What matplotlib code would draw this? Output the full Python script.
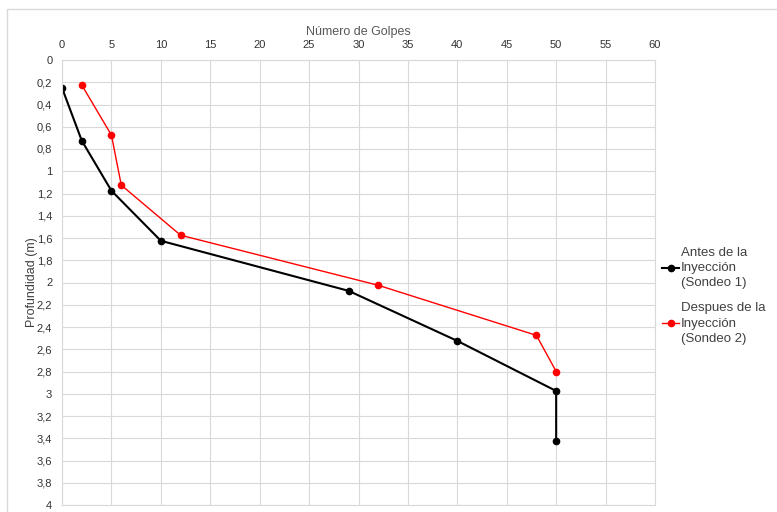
import matplotlib
matplotlib.use('Agg')
import matplotlib.pyplot as plt
from matplotlib.ticker import FuncFormatter
from matplotlib.patches import Rectangle

plt.rcParams['font.family'] = ['Liberation Sans', 'DejaVu Sans']

# Datos
golpes_antes = [0, 2, 5, 10, 29, 40, 50, 50]
prof_antes = [0.25, 0.725, 1.175, 1.625, 2.075, 2.525, 2.975, 3.425]

golpes_despues = [2, 5, 6, 12, 32, 48, 50]
prof_despues = [0.225, 0.675, 1.125, 1.575, 2.025, 2.475, 2.8]

etiqueta_antes = "Antes de la\nInyección\n(Sondeo 1)"
etiqueta_despues = "Despues de la\nInyección\n(Sondeo 2)"

GRIS = '#595959'
GRID = '#d9d9d9'

fig = plt.figure(figsize=(7.77, 5.12), dpi=100)
ax = fig.add_axes([62/777, 7/512, 593/777, 445/512])

# marco del área del gráfico
fig.patches.append(Rectangle((7/777, -0.1), 1.0, (512-9)/512 + 0.1,
                             transform=fig.transFigure, fill=False,
                             edgecolor=GRID, lw=1))

ax.plot(golpes_antes, prof_antes, color='black', lw=1.5, marker='o',
        ms=4.5, label=etiqueta_antes)
ax.plot(golpes_despues, prof_despues, color='#ff0000', lw=1.0, marker='o',
        ms=4.5, label=etiqueta_despues)

ax.set_xlim(0, 60)
ax.set_ylim(4, 0)
ax.set_xticks(range(0, 61, 5))
ax.set_yticks([i * 0.2 for i in range(21)])

def fmt(v, pos):
    s = f"{v:.1f}".rstrip('0').rstrip('.')
    return s.replace('.', ',')

ax.yaxis.set_major_formatter(FuncFormatter(fmt))
ax.xaxis.tick_top()
ax.xaxis.set_label_position('top')
ax.tick_params(length=0, labelsize=8, labelcolor='#333333', pad=7)

ax.set_xlabel('Número de Golpes', fontsize=9, color=GRIS, labelpad=4)
ax.set_ylabel('Profundidad (m)', fontsize=9, color='#404040', labelpad=-1)

ax.grid(True, color=GRID, lw=0.8)
for s in ax.spines.values():
    s.set_color(GRID)
    s.set_linewidth(0.8)

leg = ax.legend(loc='center left', bbox_to_anchor=(0.992, 0.47), frameon=False,
                fontsize=9.5, handlelength=1.3, handletextpad=0.1,
                labelspacing=1.0, labelcolor='#404040')
for t in leg.get_texts():
    t.set_linespacing(1.35)

fig.savefig('out.png', dpi=100)
